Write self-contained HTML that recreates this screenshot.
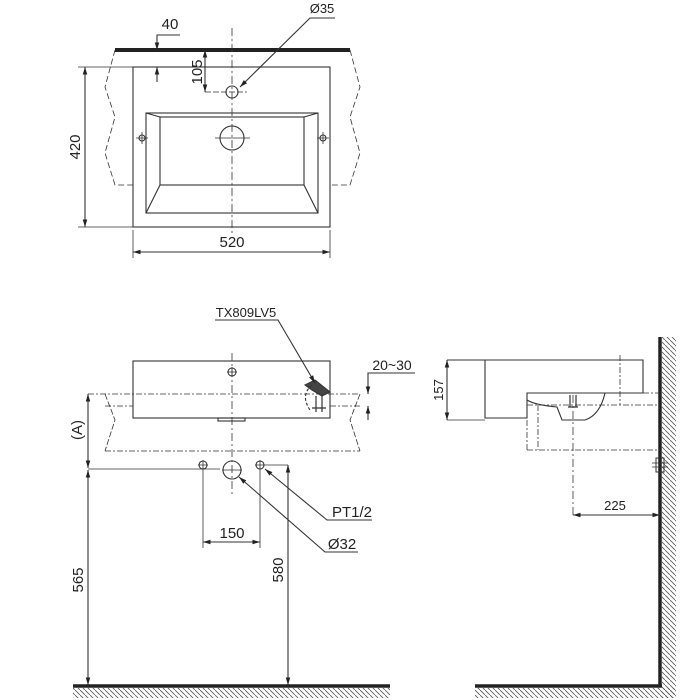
<!DOCTYPE html>
<html><head><meta charset="utf-8"><style>
html,body{margin:0;padding:0;background:#fff;}
svg{display:block;}
text{font-family:"Liberation Sans",sans-serif;font-size:15px;fill:#222;}
</style></head><body>
<svg width="700" height="700" viewBox="0 0 700 700" xmlns="http://www.w3.org/2000/svg">
<defs>
<marker id="a" viewBox="0 0 10 10" refX="10" refY="5" markerWidth="7" markerHeight="7" orient="auto-start-reverse"><path d="M0,2 L10,5 L0,8 z" fill="#222"/></marker>
<pattern id="h" width="5" height="5" patternUnits="userSpaceOnUse"><path d="M0,0 L5,5" stroke="#555" stroke-width="0.8"/></pattern>
</defs>
<g fill="none" stroke="#333" stroke-width="1.1">
<!-- TOP VIEW -->
<line x1="115" y1="50" x2="350" y2="50" stroke="#222" stroke-width="4"/>
<rect x="133" y="67" width="197" height="160"/>
<rect x="146" y="113" width="172" height="100"/>
<rect x="160" y="117" width="144" height="68"/>
<line x1="146" y1="113" x2="160" y2="117"/><line x1="318" y1="113" x2="304" y2="117"/>
<line x1="146" y1="213" x2="160" y2="185"/><line x1="318" y1="213" x2="304" y2="185"/>
<circle cx="232" cy="92" r="6"/><circle cx="232" cy="138" r="12"/>
<line x1="232" y1="28" x2="232" y2="235" stroke-dasharray="8,3,2,3" stroke-width="0.8"/>
<line x1="205" y1="92" x2="247" y2="92" stroke-dasharray="6,2" stroke-width="0.8"/>
<line x1="215" y1="138" x2="250" y2="138" stroke-width="0.8"/>
<path d="M136,138 h12 M142,132 v12 M317,138 h12 M323,132 v12" stroke-width="0.8"/>
<circle cx="142" cy="138" r="3"/><circle cx="323" cy="138" r="3"/>
<path d="M115,50 L105,87 L115,117 L105,153 L115,185 H133" stroke-dasharray="6,3" stroke-width="0.8"/>
<path d="M350,50 L360,87 L350,117 L360,153 L350,185 H330" stroke-dasharray="6,3" stroke-width="0.8"/>
<line x1="78" y1="67" x2="133" y2="67" stroke-width="0.8"/><line x1="78" y1="227" x2="133" y2="227" stroke-width="0.8"/>
<line x1="85" y1="67" x2="85" y2="227" marker-start="url(#a)" marker-end="url(#a)"/>
<line x1="133" y1="230" x2="133" y2="258" stroke-width="0.8"/><line x1="330" y1="230" x2="330" y2="258" stroke-width="0.8"/>
<line x1="133" y1="252" x2="330" y2="252" marker-start="url(#a)" marker-end="url(#a)"/>
<path d="M180,35 H157 V50" marker-end="url(#a)"/>
<line x1="157" y1="82" x2="157" y2="67" marker-end="url(#a)"/>
<line x1="205" y1="50" x2="205" y2="92" marker-start="url(#a)" marker-end="url(#a)"/>
<path d="M335,18 H310 L240,87" marker-end="url(#a)"/>
<!-- FRONT VIEW -->
<rect x="133" y="361" width="197" height="57"/>
<rect x="218" y="418" width="27" height="3"/>
<line x1="232" y1="353" x2="232" y2="495" stroke-dasharray="8,3,2,3" stroke-width="0.8"/>
<circle cx="232" cy="372" r="4"/><path d="M227,372h10M232,367v10" stroke-width="0.8"/>
<path d="M88,394 H360 M105,406 H133 M330,406 H360 M105,451 H360" stroke-dasharray="6,2,2,2" stroke-width="0.8"/>
<path d="M105,394 L115,420 L105,451 M360,394 L350,420 L360,451" stroke-dasharray="6,2" stroke-width="0.8"/>
<path d="M305,385 L315,380 L330,392 L322,396 L312,390 Z" fill="#444"/>
<path d="M312,385 Q300,395 310,410" stroke-dasharray="3,2"/>
<path d="M316,396 v16 M322,396 v16 M312,408 h14" stroke-width="1.2"/>
<path d="M215,320 H278 L315,383" marker-end="url(#a)"/>
<path d="M415,373 H368 V394" marker-end="url(#a)"/>
<line x1="368" y1="420" x2="368" y2="406" marker-end="url(#a)"/>
<line x1="88" y1="394" x2="88" y2="468" marker-start="url(#a)" marker-end="url(#a)"/>
<line x1="88" y1="469" x2="220" y2="469" stroke-width="0.8"/>
<circle cx="203" cy="465" r="4"/><path d="M198,465h10M203,460v10" stroke-width="0.8"/>
<circle cx="260" cy="465" r="4"/><path d="M255,465h10M260,460v10" stroke-width="0.8"/>
<circle cx="232" cy="470" r="9"/><path d="M222,470h20" stroke-width="0.8"/>
<line x1="203" y1="470" x2="203" y2="548" stroke-width="0.8"/><line x1="260" y1="470" x2="260" y2="548" stroke-width="0.8"/>
<line x1="203" y1="542" x2="260" y2="542" marker-start="url(#a)" marker-end="url(#a)"/>
<line x1="265" y1="465" x2="288" y2="465" stroke-width="0.8"/>
<line x1="288" y1="465" x2="288" y2="685" marker-start="url(#a)" marker-end="url(#a)"/>
<line x1="88" y1="470" x2="88" y2="685" marker-start="url(#a)" marker-end="url(#a)"/>
<path d="M372,520 H327 L265,469" marker-end="url(#a)"/>
<path d="M358,552 H325 L239,477" marker-end="url(#a)"/>
<line x1="73" y1="686" x2="390" y2="686" stroke="#222" stroke-width="3.5"/>
<rect x="73" y="688" width="317" height="10" fill="url(#h)" stroke="none"/>
<!-- SIDE VIEW -->
<line x1="660" y1="337" x2="660" y2="686" stroke="#222" stroke-width="3.5"/>
<rect x="662" y="337" width="14" height="361" fill="url(#h)" stroke="none"/>
<line x1="475" y1="686" x2="662" y2="686" stroke="#222" stroke-width="3.5"/>
<rect x="475" y="688" width="200" height="10" fill="url(#h)" stroke="none"/>
<path d="M447,360 H643 V393 H527 V418 H485 V360"/>
<path d="M527,400 Q535,405 557,407 L562,420 H585 Q600,415 605,393"/>
<line x1="620" y1="355" x2="620" y2="405" stroke-dasharray="6,2,2,2" stroke-width="0.8"/>
<path d="M643,393 H660 M527,405 H660 M527,420 V450 M538,405 V450 M527,450 H660" stroke-dasharray="6,2,2,2" stroke-width="0.8"/>
<line x1="573" y1="395" x2="573" y2="515" stroke-dasharray="8,3,2,3" stroke-width="0.8"/>
<path d="M570,395 v12 M576,395 v12 M568,407 h10" stroke-width="1.2"/>
<line x1="447" y1="360" x2="447" y2="420" marker-start="url(#a)" marker-end="url(#a)"/>
<line x1="447" y1="420" x2="485" y2="420" stroke-width="0.8"/>
<line x1="573" y1="515" x2="660" y2="515" marker-start="url(#a)" marker-end="url(#a)"/>
<rect x="656" y="458" width="8" height="14" stroke-width="1"/><path d="M652,463h16M652,467h16" stroke-width="0.8"/>
</g>
<text x="170" y="29" text-anchor="middle">40</text>
<text x="322" y="13" text-anchor="middle" style="font-size:13px">Ø35</text>
<text transform="translate(202,72) rotate(-90)" text-anchor="middle">105</text>
<text transform="translate(80,147) rotate(-90)" text-anchor="middle">420</text>
<text x="232" y="247" text-anchor="middle">520</text>
<text x="246" y="317" text-anchor="middle" style="font-size:13px">TX809LV5</text>
<text x="392" y="370" text-anchor="middle" style="font-size:14px">20~30</text>
<text transform="translate(82,430) rotate(-90)" text-anchor="middle">(A)</text>
<text x="232" y="538" text-anchor="middle">150</text>
<text x="352" y="517" text-anchor="middle">PT1/2</text>
<text x="342" y="549" text-anchor="middle">Ø32</text>
<text transform="translate(83,580) rotate(-90)" text-anchor="middle">565</text>
<text transform="translate(283,570) rotate(-90)" text-anchor="middle">580</text>
<text transform="translate(443,390) rotate(-90)" text-anchor="middle" style="font-size:13px">157</text>
<text x="615" y="510" text-anchor="middle" style="font-size:13px">225</text>
</svg>
</body></html>
